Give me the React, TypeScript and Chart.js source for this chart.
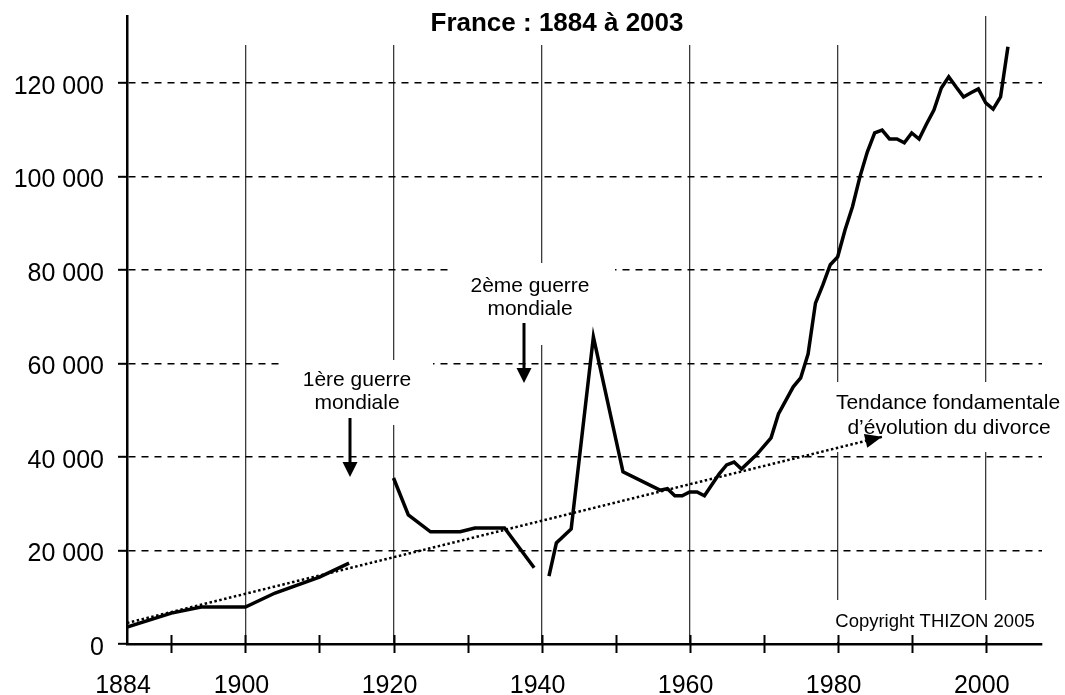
import React, { useEffect, useRef } from 'react';
import { Chart, registerables } from 'chart.js';

Chart.register(...registerables);

// ---- Data ----
const YEARS = [
  1884, 1890, 1894, 1900, 1904, 1910, 1914,
  1917,
  1920, 1922, 1925, 1929, 1931, 1935, 1939,
  1940,
  1941, 1942, 1944, 1947, 1951, 1956, 1957, 1958, 1959, 1960, 1961, 1962,
  1964, 1965, 1966, 1967, 1968, 1969, 1971, 1972, 1974, 1975, 1976, 1977, 1978, 1979,
  1980, 1981, 1982, 1983, 1984, 1985, 1986, 1987, 1988, 1989, 1990, 1991,
  1992, 1993, 1994, 1995, 1996, 1997, 1998, 1999, 2000, 2001, 2002, 2003,
];
const DIVORCES = [
  3600, 6600, 7900, 7900, 10900, 14300, 17300,
  null,
  35500, 27600, 24000, 24000, 24800, 24800, 16300,
  null,
  14500, 21600, 24600, 65700, 36800, 32900, 33200, 31700, 31700, 32500, 32500, 31700,
  36400, 38300, 38900, 37400, 38900, 40400, 44100, 49200, 55000, 56900, 62000, 72900, 76800, 81100,
  82800, 88600, 93500, 99900, 105200, 109300, 109900, 108000, 108000, 107200, 109300, 108000,
  111200, 114200, 118900, 121300, 119100, 117000, 117900, 118700, 115700, 114400, 117000, 127700,
];
const TREND_YEARS = [1884, 1986];
const TREND_VALUES = [4500, 44300];

const X_TICKS = [1884, 1890, 1900, 1910, 1920, 1930, 1940, 1950, 1960, 1970, 1980, 1990, 2000];
const X_LABELS = [1884, 1900, 1920, 1940, 1960, 1980, 2000];
const X_GRID = [1900, 1920, 1940, 1960, 1980, 2000];
const Y_TICKS = [0, 20000, 40000, 60000, 80000, 100000, 120000];

const TITLE = 'France : 1884 à 2003';
const NOTE_WW1 = ['1ère guerre', 'mondiale'];
const NOTE_WW2 = ['2ème guerre', 'mondiale'];
const NOTE_TREND = ['Tendance fondamentale', 'd’évolution du divorce'];
const COPYRIGHT = 'Copyright THIZON 2005';

const FONT = '"Liberation Sans", Arial, Helvetica, sans-serif';

const fmt = (v: number) => String(v).replace(/\B(?=(\d{3})+(?!\d))/g, ' ');

function arrowDown(ctx: CanvasRenderingContext2D, x: number, y0: number, y1: number) {
  ctx.beginPath();
  ctx.moveTo(x, y0);
  ctx.lineTo(x, y1 - 12);
  ctx.lineWidth = 3;
  ctx.strokeStyle = '#000';
  ctx.stroke();
  ctx.beginPath();
  ctx.moveTo(x - 7.5, y1 - 15);
  ctx.lineTo(x + 7.5, y1 - 15);
  ctx.lineTo(x, y1);
  ctx.closePath();
  ctx.fillStyle = '#000';
  ctx.fill();
}

const decor = {
  id: 'decor',
  beforeDatasetsDraw(chart: any) {
    const ctx: CanvasRenderingContext2D = chart.ctx;
    ctx.save();
    // white label backgrounds hiding grid lines
    ctx.fillStyle = '#fff';
    ctx.fillRect(215, 14, 685, 31);
    ctx.fillRect(280, 360, 153, 65);
    ctx.fillRect(448, 263, 167, 82);
    ctx.fillRect(828, 382, 237, 70);
    ctx.fillRect(830, 600, 215, 42);

    ctx.fillStyle = '#000';
    ctx.textAlign = 'center';
    ctx.textBaseline = 'alphabetic';
    ctx.font = `bold 26px ${FONT}`;
    ctx.fillText(TITLE, 557, 31);

    ctx.font = `21px ${FONT}`;
    ctx.fillText(NOTE_WW1[0], 357, 386);
    ctx.fillText(NOTE_WW1[1], 357, 409);
    ctx.fillText(NOTE_WW2[0], 530, 292);
    ctx.fillText(NOTE_WW2[1], 530, 315);
    ctx.fillText(NOTE_TREND[0], 948, 409);
    ctx.fillText(NOTE_TREND[1], 949, 434);

    ctx.font = `18.5px ${FONT}`;
    ctx.fillText(COPYRIGHT, 935, 627);
    ctx.restore();
  },
  afterDatasetsDraw(chart: any) {
    const ctx: CanvasRenderingContext2D = chart.ctx;
    const xs = chart.scales.x;
    const ys = chart.scales.y;
    const bottom = chart.chartArea.bottom;
    ctx.save();
    // crossing tick marks on x axis
    ctx.strokeStyle = '#000';
    ctx.lineWidth = 2;
    for (const v of X_TICKS) {
      if (v === xs.min) continue;
      const px = Math.round(xs.getPixelForValue(v)) + 0.5;
      ctx.beginPath();
      ctx.moveTo(px, bottom - 9);
      ctx.lineTo(px, bottom + 9);
      ctx.stroke();
    }
    // war arrows
    arrowDown(ctx, 350, 418, 477);
    arrowDown(ctx, 524, 323, 383);
    // trend arrowhead
    const n = TREND_YEARS.length;
    const x0 = xs.getPixelForValue(TREND_YEARS[0]);
    const y0 = ys.getPixelForValue(TREND_VALUES[0]);
    const x1 = xs.getPixelForValue(TREND_YEARS[n - 1]);
    const y1 = ys.getPixelForValue(TREND_VALUES[n - 1]);
    const a = Math.atan2(y1 - y0, x1 - x0);
    const L = 17, W = 7;
    const bx = x1 - Math.cos(a) * L;
    const by = y1 - Math.sin(a) * L;
    ctx.beginPath();
    ctx.moveTo(x1, y1);
    ctx.lineTo(bx - Math.sin(a) * W, by + Math.cos(a) * W);
    ctx.lineTo(bx + Math.sin(a) * W, by - Math.cos(a) * W);
    ctx.closePath();
    ctx.fillStyle = '#000';
    ctx.fill();
    ctx.restore();
  },
};

export default function App() {
  const ref = useRef<HTMLCanvasElement | null>(null);
  useEffect(() => {
    if (!ref.current) return;
    const mainData = YEARS.map((x, i) => ({ x, y: DIVORCES[i] }));
    const trendData = TREND_YEARS.map((x, i) => ({ x, y: TREND_VALUES[i] }));
    const chart = new Chart(ref.current, {
      type: 'line',
      data: {
        datasets: [
          {
            data: mainData as any,
            borderColor: '#000',
            borderWidth: 3.5,
            pointRadius: 0,
            tension: 0,
            spanGaps: false,
            fill: false,
          },
          {
            data: trendData as any,
            borderColor: '#000',
            borderWidth: 2.5,
            borderDash: [2.5, 2.5],
            pointRadius: 0,
            tension: 0,
            fill: false,
          },
        ],
      },
      options: {
        responsive: false,
        animation: false,
        events: [],
        layout: { padding: { top: 16, right: 23, left: 0, bottom: 0 } },
        plugins: {
          legend: { display: false },
          title: { display: false },
          tooltip: { enabled: false },
        },
        scales: {
          x: {
            type: 'linear',
            min: 1884,
            max: 2007.6,
            afterBuildTicks: (axis: any) => {
              axis.ticks = X_TICKS.map((v) => ({ value: v }));
            },
            afterFit: (axis: any) => {
              axis.height = 51;
              axis.paddingLeft = 0;
              axis.paddingRight = 0;
            },
            ticks: {
              autoSkip: false,
              maxRotation: 0,
              padding: 27,
              labelOffset: -4,
              color: '#000',
              font: { family: FONT, size: 25 },
              callback: (v: any) => (X_LABELS.includes(Number(v)) ? String(v) : ''),
            },
            grid: {
              drawTicks: false,
              lineWidth: 1.3,
              color: (c: any) =>
                c.tick && X_GRID.includes(c.tick.value) ? '#3a3a3a' : 'rgba(0,0,0,0)',
            },
            border: { display: true, color: '#000', width: 2.5 },
          },
          y: {
            type: 'linear',
            min: 0,
            max: 134300,
            afterBuildTicks: (axis: any) => {
              axis.ticks = Y_TICKS.map((v) => ({ value: v }));
            },
            afterFit: (axis: any) => {
              axis.width = 127;
              axis.paddingTop = 0;
              axis.paddingBottom = 0;
            },
            ticks: {
              padding: 14,
              labelOffset: 4,
              color: '#000',
              font: { family: FONT, size: 25 },
              callback: (v: any) => fmt(Number(v)),
            },
            grid: {
              drawTicks: true,
              tickLength: 9,
              tickWidth: 2,
              tickColor: '#000',
              tickBorderDash: [],
              lineWidth: 1.6,
              color: (c: any) => (c.tick && c.tick.value === 0 ? 'rgba(0,0,0,0)' : '#000'),
            },
            border: { display: true, color: '#000', width: 2.5, dash: [7, 6] },
          },
        },
      },
      plugins: [decor],
    });
    return () => chart.destroy();
  }, []);
  return (
    <div style={{ position: 'fixed', left: 0, top: 0, width: 1065, height: 695, background: '#fff' }}>
      <canvas ref={ref} width={1065} height={695} style={{ display: 'block' }} />
    </div>
  );
}
